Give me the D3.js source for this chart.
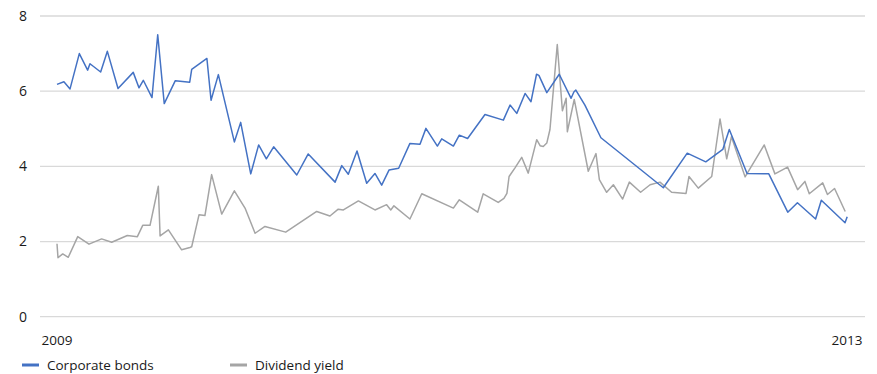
<!DOCTYPE html>
<html><head><meta charset="utf-8">
<script src="https://cdn.jsdelivr.net/npm/d3@7"></script>
<style>
html,body{margin:0;padding:0;background:#fff;}
text{font-family:"Open Sans",sans-serif;fill:#1a1a1a;}
</style></head>
<body><svg id="c" width="877" height="374"></svg>
<script>
// Time as decimal years, values in percent
const bondYears = [2009.000,2009.035,2009.066,2009.113,2009.155,2009.167,2009.221,2009.255,2009.309,2009.386,2009.415,2009.437,2009.481,2009.510,2009.543,2009.599,2009.672,2009.682,2009.759,2009.780,2009.817,2009.898,2009.930,2009.981,2010.021,2010.060,2010.097,2010.214,2010.272,2010.408,2010.442,2010.475,2010.519,2010.568,2010.610,2010.644,2010.681,2010.730,2010.787,2010.838,2010.868,2010.926,2010.948,2011.007,2011.037,2011.079,2011.167,2011.260,2011.294,2011.328,2011.370,2011.400,2011.428,2011.440,2011.480,2011.543,2011.603,2011.617,2011.627,2011.673,2011.754,2012.070,2012.191,2012.285,2012.371,2012.404,2012.494,2012.604,2012.700,2012.749,2012.841,2012.870,2012.990,2013.001];
const bondValues = [6.18,6.25,6.06,7.00,6.56,6.73,6.51,7.06,6.07,6.50,6.09,6.29,5.83,7.50,5.67,6.28,6.24,6.58,6.87,5.76,6.44,4.65,5.17,3.80,4.57,4.20,4.52,3.77,4.33,3.58,4.02,3.79,4.41,3.55,3.81,3.50,3.90,3.95,4.61,4.59,5.01,4.54,4.73,4.54,4.83,4.74,5.38,5.23,5.63,5.41,5.94,5.72,6.45,6.42,5.96,6.45,5.81,5.98,6.03,5.63,4.76,3.43,4.35,4.12,4.45,4.98,3.81,3.80,2.78,3.03,2.60,3.10,2.50,2.66];
const divYears = [2009.000,2009.005,2009.029,2009.057,2009.105,2009.162,2009.226,2009.277,2009.356,2009.407,2009.434,2009.471,2009.513,2009.522,2009.564,2009.631,2009.673,2009.682,2009.719,2009.749,2009.783,2009.834,2009.898,2009.952,2010.003,2010.053,2010.158,2010.315,2010.382,2010.424,2010.450,2010.526,2010.610,2010.669,2010.690,2010.706,2010.787,2010.847,2011.007,2011.037,2011.130,2011.158,2011.234,2011.263,2011.278,2011.289,2011.319,2011.353,2011.386,2011.429,2011.446,2011.462,2011.480,2011.496,2011.533,2011.559,2011.578,2011.584,2011.619,2011.690,2011.729,2011.746,2011.783,2011.817,2011.864,2011.898,2011.955,2012.003,2012.053,2012.112,2012.185,2012.200,2012.247,2012.315,2012.357,2012.391,2012.415,2012.484,2012.581,2012.635,2012.699,2012.750,2012.787,2012.809,2012.877,2012.901,2012.937,2012.991];
const divValues = [1.94,1.57,1.67,1.58,2.13,1.93,2.07,1.98,2.16,2.13,2.43,2.43,3.47,2.15,2.31,1.78,1.84,1.86,2.71,2.69,3.78,2.73,3.35,2.89,2.22,2.40,2.25,2.80,2.68,2.86,2.84,3.08,2.84,2.98,2.84,2.95,2.60,3.27,2.89,3.11,2.78,3.27,3.04,3.15,3.28,3.73,3.96,4.24,3.82,4.71,4.55,4.53,4.62,4.98,7.24,5.48,5.81,4.92,5.78,3.87,4.34,3.65,3.31,3.51,3.13,3.58,3.31,3.51,3.58,3.31,3.28,3.73,3.42,3.73,5.26,4.20,4.79,3.72,4.57,3.80,3.98,3.38,3.60,3.27,3.56,3.25,3.41,2.80];
const yTicks = [0,2,4,6,8];
const xTickLabels = [2009, 2013];
const seriesNames = ["Corporate bonds","Dividend yield"];
const seriesColors = ["#4472c4","#a5a5a5"];

const svg = d3.select("#c");
const x = d3.scaleLinear().domain([2009, 2013]).range([57, 847]);
const y = d3.scaleLinear().domain([0, 8]).range([316.7, 16]);

// gridlines
svg.append("g").selectAll("line").data(yTicks).join("line")
  .attr("x1", 40).attr("x2", 865)
  .attr("y1", d => y(d)).attr("y2", d => y(d))
  .attr("stroke", "#d9d9d9").attr("stroke-width", 1.3);

// y labels
svg.append("g").selectAll("text").data(yTicks).join("text")
  .attr("x", 23).attr("y", d => y(d)).attr("dy", "0.35em")
  .attr("text-anchor", "middle").attr("font-size", 14).text(d => d);

// x labels
svg.append("g").selectAll("text").data(xTickLabels).join("text")
  .attr("x", d => x(d)).attr("y", 340).attr("dy", "0.35em")
  .attr("text-anchor", "middle").attr("font-size", 13.5).text(d => d);

const line = d3.line().x(d => x(d[0])).y(d => y(d[1]));
const divData = divYears.map((t, i) => [t, divValues[i]]);
const bondData = bondYears.map((t, i) => [t, bondValues[i]]);

svg.append("path").datum(divData).attr("d", line)
  .attr("fill", "none").attr("stroke", seriesColors[1]).attr("stroke-width", 1.5).attr("stroke-linejoin", "round");
svg.append("path").datum(bondData).attr("d", line)
  .attr("fill", "none").attr("stroke", seriesColors[0]).attr("stroke-width", 1.5).attr("stroke-linejoin", "round");

// legend
const legX = [22, 230];
const lg = svg.append("g").selectAll("g").data(seriesNames).join("g")
  .attr("transform", (d, i) => `translate(${legX[i]},365)`);
lg.append("line").attr("x1", 0).attr("x2", 17).attr("y1", 0).attr("y2", 0)
  .attr("stroke", (d, i) => seriesColors[i]).attr("stroke-width", 3);
lg.append("text").attr("x", 25).attr("dy", "0.35em").attr("font-size", 13.5).text(d => d);
</script></body></html>
